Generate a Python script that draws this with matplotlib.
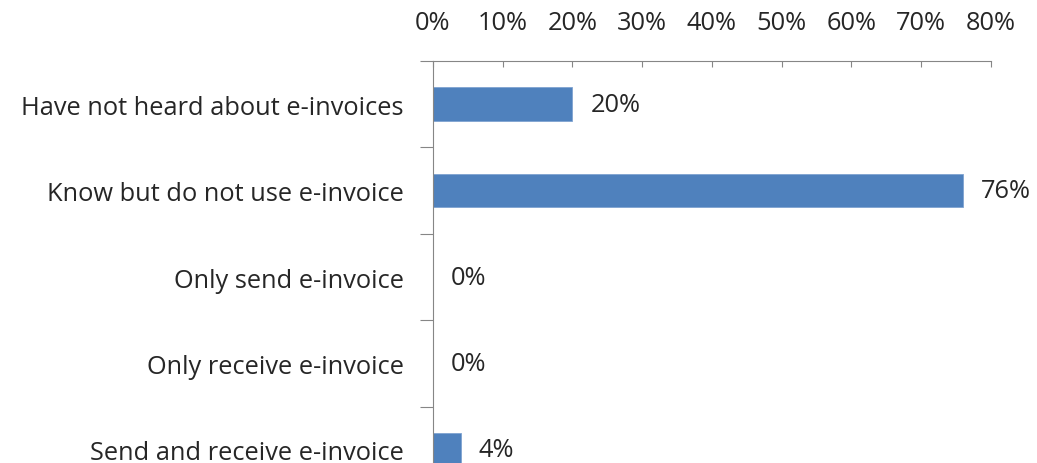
import numpy as np
import matplotlib.pyplot as plt
from matplotlib.ticker import FixedLocator, PercentFormatter

# Survey answers, top to bottom
categories = ['Have not heard about e-invoices',
              'Know but do not use e-invoice',
              'Only send e-invoice',
              'Only receive e-invoice',
              'Send and receive e-invoice']
shares = [20, 76, 0, 0, 4]
x_ticks = [0, 10, 20, 30, 40, 50, 60, 70, 80]

BAR_COLOR = '#4F81BD'
AXIS_COLOR = '#868686'
TEXT_COLOR = '#262626'
FONT_SIZE = 18.3

plt.rcParams['font.family'] = ['Open Sans', 'DejaVu Sans']

fig = plt.figure(figsize=(10.37, 4.64), dpi=100)
# plot area runs past the bottom edge of the canvas
ax = fig.add_axes([0.4175, -0.0647, 0.5381, 0.931])

y = np.arange(len(categories))
ax.barh(y, shares, height=0.39, color=BAR_COLOR, edgecolor='#7fa3d1', linewidth=0.6)

for yi, v in zip(y, shares):
    ax.annotate(f'{v}%', (v, yi), xytext=(13, 0), textcoords='offset points',
                va='center', ha='left', fontsize=FONT_SIZE, color=TEXT_COLOR)

ax.set_xlim(0, 80)
ax.set_ylim(len(categories) - 0.5, -0.5)

ax.xaxis.tick_top()
ax.set_xticks(x_ticks)
ax.xaxis.set_major_formatter(PercentFormatter(decimals=0))
ax.tick_params(axis='x', direction='in', length=4.5, width=0.8, color=AXIS_COLOR,
               pad=18.5, labelsize=FONT_SIZE, labelcolor=TEXT_COLOR)

ax.set_yticks(y)
ax.set_yticklabels(categories)
ax.tick_params(axis='y', which='major', length=0, pad=21, labelsize=FONT_SIZE,
               labelcolor=TEXT_COLOR)
ax.yaxis.set_minor_locator(FixedLocator(np.arange(-0.5, len(categories), 1.0)))
ax.tick_params(axis='y', which='minor', direction='out', length=9.5, width=0.8,
               color=AXIS_COLOR)

for side in ['right', 'bottom']:
    ax.spines[side].set_visible(False)
for side in ['top', 'left']:
    ax.spines[side].set_color(AXIS_COLOR)
    ax.spines[side].set_linewidth(0.8)

fig.savefig('out.png', dpi=100)
